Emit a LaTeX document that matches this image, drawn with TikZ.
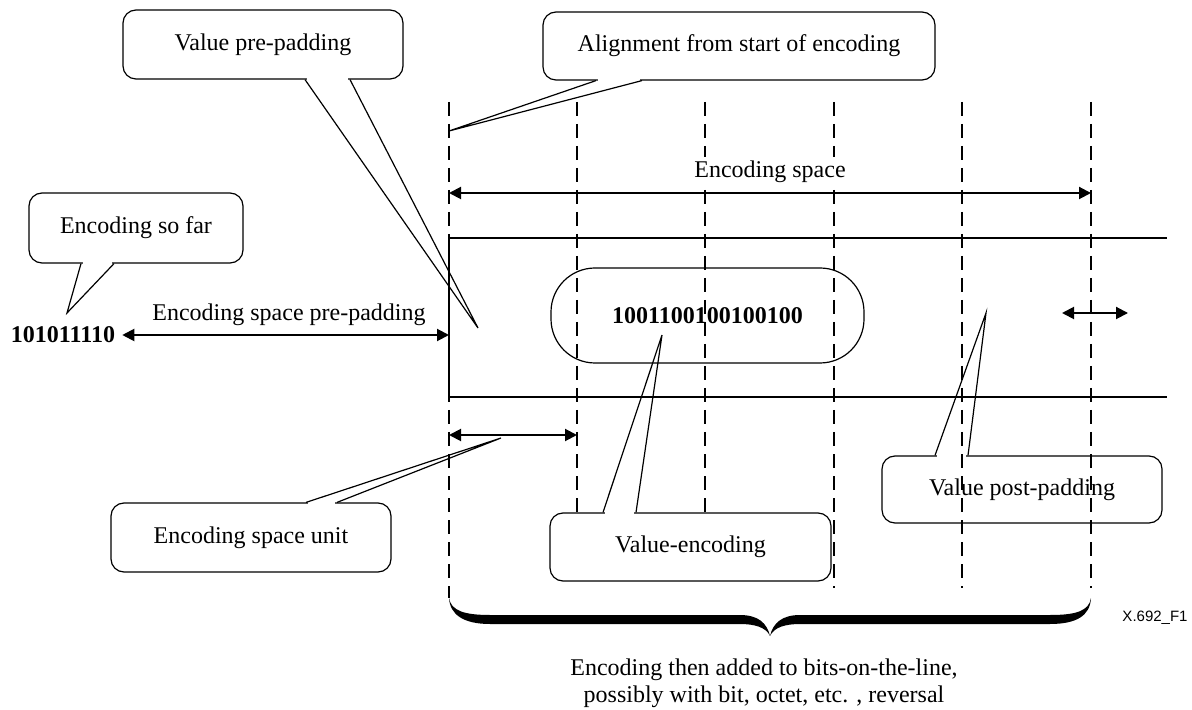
\documentclass[tikz,border=0pt]{standalone}
\usepackage{fontspec}
\setmainfont{Liberation Serif}
\newfontfamily\figfont{Liberation Sans}
\usetikzlibrary{arrows.meta, positioning, calc}
\newcommand{\bubbletail}[3]{%
  \draw[white, line width=1.8pt, shorten <=0.8pt, shorten >=0.8pt] (#1) -- (#2);
  \draw (#1) -- (#3) -- (#2);}

\begin{document}
\begin{tikzpicture}[x=0.5pt, y=-0.5pt, line width=0.6pt,
    font=\fontsize{12}{14.4}\selectfont,
    bubble/.style={draw, rounded corners=6.5pt, minimum width=140pt,
      minimum height=34.5pt, inner sep=0pt},
    gridline/.style={line width=0.8pt, dash pattern=on 7pt off 4pt},
    dimarrow/.style={line width=1pt,
      {Triangle[length=6pt,width=6pt]}-{Triangle[length=6pt,width=6pt]}}]
    \useasboundingbox (0,0) rectangle (1192,710);
    % Callouts
    \node[bubble] (vpre) at (263,44.5) {Value pre-padding};
    \node[bubble, minimum width=196pt, minimum height=34pt] (align) at (739,46) {Alignment from start of encoding};
    \node[bubble, minimum width=107pt, minimum height=35pt] (sofar) at (136,228) {Encoding so far};
    \node[bubble] (unit) at (251,537.5) {Encoding space unit};
    \node[bubble, minimum height=33.5pt] (vpost) at (1022,489.5) {Value post-padding};
    \coordinate (vpre-tip) at (478,328);
    \coordinate (align-tip) at (449,131);
    \coordinate (sofar-tip) at (67,313);
    \coordinate (unit-tip) at (501,438);
    \coordinate (vpost-tip) at (986,313);
    \coordinate (venc-tip) at (662,335);
    \bubbletail{$(vpre.south)+(42,0)$}{$(vpre.south)+(87,0)$}{vpre-tip}
    \bubbletail{$(align.south)+(-143,0)$}{$(align.south)+(-97,0)$}{align-tip}
    \bubbletail{$(sofar.south)+(-55,0)$}{$(sofar.south)+(-22,0)$}{sofar-tip}
    \bubbletail{$(unit.north)+(55,0)$}{$(unit.north)+(86,0)$}{unit-tip}
    \bubbletail{$(vpost.north)+(-87,0)$}{$(vpost.north)+(-54,0)$}{vpost-tip}
    % Unit grid
    \foreach \i/\x/\len in {0/449/496,1/577/476,2/705/476,3/834/486,4/962/486,5/1091/486}{
        \coordinate (g\i) at (\x,102);
        \draw[gridline] (g\i) -- ++(0,\len);
    }
    % Band
    \coordinate (band-tl) at (449,238);
    \coordinate (band-bl) at (449,397);
    \draw (band-tl) -- ++(718,0);
    \draw (band-bl) -- ++(718,0);
    \draw (band-tl) -- (band-bl);
    \node[draw, rounded corners=22pt, minimum width=156.5pt, minimum height=47.5pt,
        inner sep=0pt, font=\bfseries\fontsize{12}{14.4}\selectfont] (bits) at (707.5,315.5) {1001100100100100};
    % Dimensions
    \node[fill=white, inner xsep=1pt, inner ysep=2pt] (espace) at (770,172) {Encoding space};
    \draw[dimarrow] (g0 |- 0,193) -- (g5 |- 0,193);
    \node[font=\bfseries\fontsize{12}{14.4}\selectfont] (sofar-bits) at (63,335) {101011110};
    \node (prepad) at (289,315) {Encoding space pre-padding};
    \draw[dimarrow] (sofar-bits.east) -- (g0 |- sofar-bits.east);
    \draw[dimarrow] (g0 |- 0,435) -- (g1 |- 0,435);
    \coordinate (post-l) at (1062,313);
    \coordinate (post-r) at (1128,313);
    \draw[dimarrow] (post-l) -- (post-r);
    % Value-encoding callout on top of the grid
    \node[bubble, fill=white, minimum width=140.5pt, minimum height=34pt] (venc) at (690.5,547) {Value-encoding};
    \bubbletail{$(venc.north)+(-87.5,0)$}{$(venc.north)+(-54.5,0)$}{venc-tip}
    % Brace and caption
    \fill (449,598) .. controls (451,611) and (465,615) .. (490,615) -- (740,615)
        .. controls (758,615) and (767,623) .. (770,636)
        .. controls (773,623) and (782,615) .. (800,615) -- (1050,615)
        .. controls (1076,615) and (1089,611) .. (1091,598)
        .. controls (1090,616) and (1076,624) .. (1050,624) -- (800,624)
        .. controls (786,624) and (774,627) .. (770,636)
        .. controls (766,627) and (754,624) .. (740,624) -- (490,624)
        .. controls (464,624) and (450,615) .. (449,598) -- cycle;
    \node[align=center, font=\fontsize{12}{13.5}\selectfont] (caption) at (764,683.5)
        {Encoding then added to bits-on-the-line,\\possibly with bit, octet, etc. , reversal};
    \node[font=\figfont\fontsize{7.5}{9}\selectfont] (figid) at (1155,618) {X.692\_F1};
\end{tikzpicture}
\end{document}
